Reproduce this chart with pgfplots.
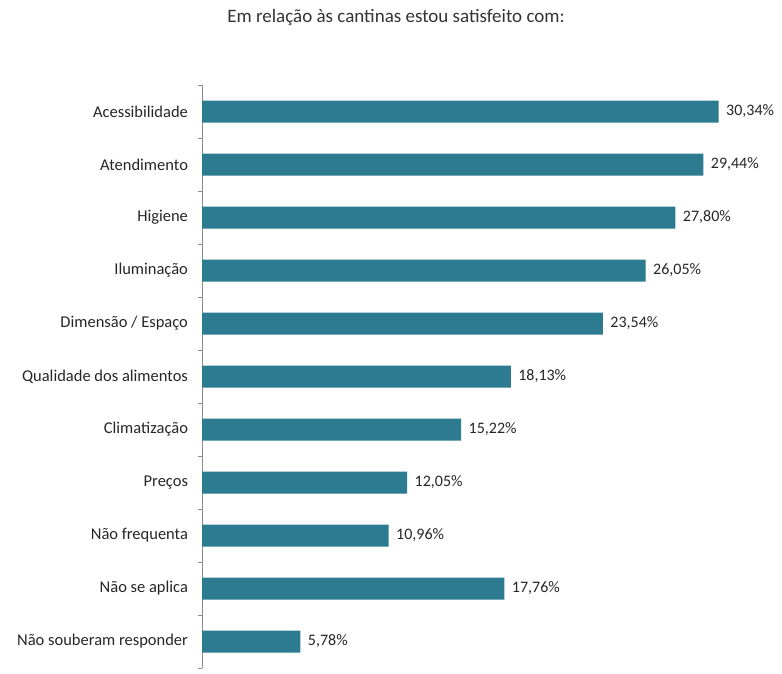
\documentclass[border=0pt]{standalone}
\usepackage{pgfplots}
\pgfplotsset{compat=1.18}
\usepackage{fontspec}
\setmainfont{Carlito}
\definecolor{barc}{RGB}{44,123,145}
\begin{document}
\begin{tikzpicture}[x=1pt,y=1pt]
\useasboundingbox (0,0) rectangle (782,673);
\node[font=\fontsize{19}{21}\selectfont, text=black!80] at (396,655) {Em relação às cantinas estou satisfeito com:};
\begin{axis}[
  at={(202pt,5pt)}, anchor=south west,
  scale only axis, width=562pt, height=583pt,
  xmin=0, xmax=33, ymin=-0.5, ymax=10.5,
  y dir=reverse,
  axis x line=none,
  axis y line*=left,
  y axis line style={draw=black!45, -},
  ytick={0,...,10},
  yticklabels={Acessibilidade, Atendimento, Higiene, Iluminação, Dimensão / Espaço, Qualidade dos alimentos, Climatização, Preços, Não frequenta, Não se aplica, Não souberam responder},
  major tick length=0pt,
  minor ytick={-0.5,0.5,...,10.5},
  minor tick length=4pt,
  tick align=outside,
  minor tick style={draw=black!45},
  yticklabel style={font=\fontsize{16.5}{18}\selectfont, text=black!85, xshift=-10.5pt},
  /pgf/number format/assume math mode=true,
  clip=false,
  xbar, bar width=22pt,
  nodes near coords={\pgfmathprintnumber[fixed, fixed zerofill, precision=2, use comma]{\pgfplotspointmeta}\%},
  every node near coord/.append style={font=\fontsize{16}{18}\selectfont, text=black!85, anchor=west, xshift=4pt},
]
\addplot[fill=barc, draw=none] coordinates {
(30.34,0) (29.44,1) (27.80,2) (26.05,3) (23.54,4) (18.13,5) (15.22,6) (12.05,7) (10.96,8) (17.76,9) (5.78,10)
};
\end{axis}
\end{tikzpicture}
\end{document}
